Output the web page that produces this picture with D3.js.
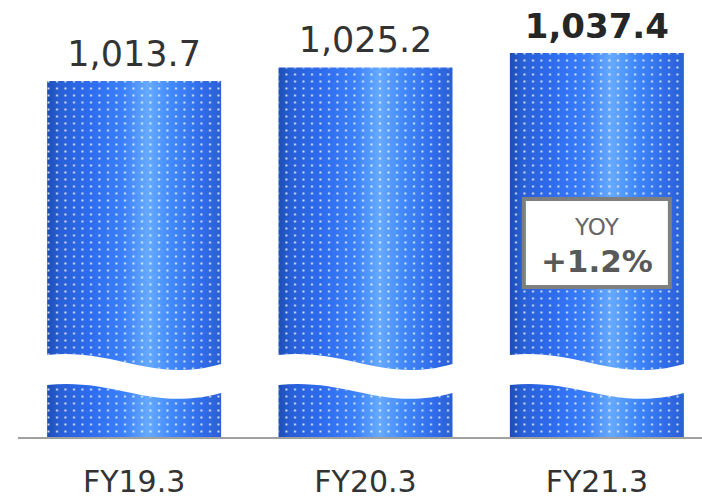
<!DOCTYPE html>
<html>
<head>
<meta charset="utf-8">
<script src="https://cdn.jsdelivr.net/npm/d3@7"></script>
<style>
  html, body { margin: 0; padding: 0; background: #fff; }
  svg { display: block; }
</style>
</head>
<body>
<svg id="chart" width="702" height="500"></svg>
<script>
// Net sales by fiscal year (billion yen)
const categories = ["FY19.3", "FY20.3", "FY21.3"];
const values = [1013.7, 1025.2, 1037.4];
const valueLabels = ["1,013.7", "1,025.2", "1,037.4"];
const yoyLabel = "YOY";
const yoyValue = "+1.2%";

const svg = d3.select("#chart");
const baseline = 438;

const x = d3.scaleBand()
  .domain(categories)
  .range([24, 707])
  .paddingInner(0.248)
  .paddingOuter(0.1);

// Truncated value axis: only the upper part of each bar is to scale
const y = d3.scaleLinear()
  .domain([1000, 1040])
  .range([97.2, 49.9]);

const defs = svg.append("defs");

const grad = defs.append("linearGradient")
  .attr("id", "barGrad")
  .attr("x1", "0").attr("x2", "1").attr("y1", "0").attr("y2", "0");
[
  [0.00, "#1c4db4"],
  [0.07, "#285fd6"],
  [0.25, "#2e6cef"],
  [0.44, "#3b80fa"],
  [0.58, "#66aaff"],
  [0.72, "#4088fb"],
  [0.90, "#2f6ae8"],
  [1.00, "#2b60d2"]
].forEach(([o, c]) => grad.append("stop").attr("offset", o).attr("stop-color", c));

const pat = defs.append("pattern")
  .attr("id", "dots")
  .attr("patternUnits", "userSpaceOnUse")
  .attr("width", 8.5).attr("height", 7)
  .attr("x", 2).attr("y", 1);
pat.append("rect")
  .attr("x", 3).attr("y", 2.5)
  .attr("width", 2).attr("height", 2)
  .attr("fill", "#ffffff").attr("fill-opacity", 0.8);

const bars = svg.append("g").selectAll("g.bar")
  .data(categories.map((c, i) => ({ c, v: values[i], label: valueLabels[i], i })))
  .join("g").attr("class", "bar");

// upper segment: from the value down to the wavy break
function upperPath(d) {
  const x0 = x(d.c), w = x.bandwidth(), x1 = x0 + w;
  const top = y(d.v);
  return `M${x0},${top} L${x1},${top} L${x1},364 ` +
    `C${x0 + 0.6 * w},384 ${x0 + 0.4 * w},348 ${x0},355 Z`;
}
// lower segment: from the wavy break down to the baseline
function lowerPath(d) {
  const x0 = x(d.c), w = x.bandwidth(), x1 = x0 + w;
  return `M${x0},385 C${x0 + 0.4 * w},378 ${x0 + 0.6 * w},412 ${x1},393 ` +
    `L${x1},${baseline} L${x0},${baseline} Z`;
}

[upperPath, lowerPath].forEach(fn => {
  bars.append("path").attr("d", fn).attr("fill", "url(#barGrad)");
  bars.append("path").attr("d", fn).attr("fill", "url(#dots)");
});

// value labels
bars.append("text")
  .attr("x", d => x(d.c) + x.bandwidth() / 2)
  .attr("y", d => y(d.v) - 15)
  .attr("text-anchor", "middle")
  .attr("font-family", "DejaVu Sans, Verdana, sans-serif")
  .attr("font-size", d => d.i === 2 ? 34 : 35)
  .attr("font-weight", d => d.i === 2 ? "bold" : "normal")
  .attr("fill", d => d.i === 2 ? "#262626" : "#333333")
  .text(d => d.label);

// baseline
svg.append("line")
  .attr("x1", 18).attr("x2", 702)
  .attr("y1", baseline).attr("y2", baseline)
  .attr("stroke", "#a0a0a0").attr("stroke-width", 2);

// category axis
const axis = svg.append("g")
  .attr("transform", `translate(0,${baseline})`)
  .call(d3.axisBottom(x).tickSize(0).tickPadding(0));
axis.select(".domain").remove();
axis.selectAll("text")
  .attr("y", 54).attr("dy", 0)
  .attr("font-family", "DejaVu Sans, Verdana, sans-serif")
  .attr("font-size", 30)
  .attr("fill", "#333333");

// YOY callout on the latest bar
const last = categories[categories.length - 1];
const cx = x(last) + x.bandwidth() / 2;
const box = svg.append("g");
box.append("rect")
  .attr("x", cx - 73).attr("y", 199)
  .attr("width", 146).attr("height", 88)
  .attr("fill", "#ffffff")
  .attr("stroke", "#7f7f7f").attr("stroke-width", 4);
box.append("text")
  .attr("x", cx).attr("y", 235)
  .attr("text-anchor", "middle")
  .attr("font-family", "DejaVu Sans, Verdana, sans-serif")
  .attr("font-size", 23)
  .attr("fill", "#666666")
  .text(yoyLabel);
box.append("text")
  .attr("x", cx).attr("y", 272)
  .attr("text-anchor", "middle")
  .attr("font-family", "DejaVu Sans, Verdana, sans-serif")
  .attr("font-size", 31)
  .attr("font-weight", "bold")
  .attr("fill", "#595959")
  .text(yoyValue);
</script>
</body>
</html>
